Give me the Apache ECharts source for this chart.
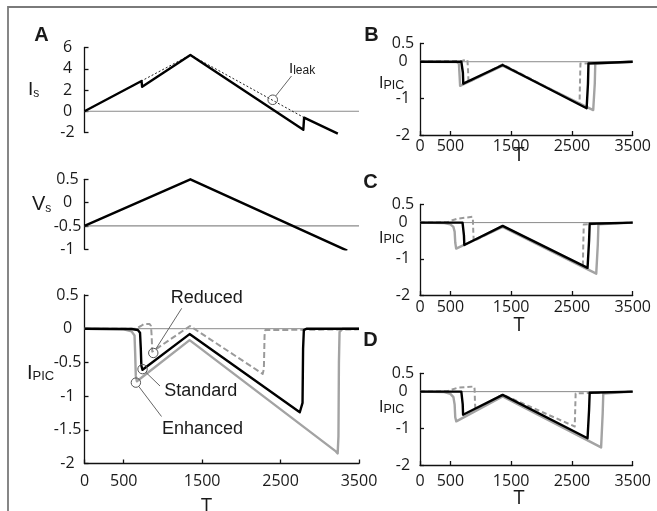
<!DOCTYPE html>
<html><head><meta charset="utf-8">
<script src="https://cdn.jsdelivr.net/npm/echarts@6/dist/echarts.min.js"></script>
<style>html,body{margin:0;padding:0;background:#fff}#c{width:657px;height:511px}</style>
</head><body><div id="c"></div>
<script>
// ---------- tick values ----------
const xTicks = [0, 500, 1500, 2500, 3500];
const yTicksBCD = [-2, -1, 0, 0.5];

// ---------- reference lines ----------
const refZero = [[0, 0], [3500, 0]];
const refVs = [[0, -0.5], [3500, -0.5]];

// ---------- Panel A: Is ----------
const isTotal = [[0,0],[727,2.85],[735,2.3],[1350,5.3],[2790,-1.75],[2800,-0.6],[3230,-2.1]];
const isLeak = [[0,0],[1350,5.3],[2800,-0.6]];
// ---------- Panel A: Vs ----------
const vsRamp = [[0,-0.5],[1350,0.5],[3350,-1.03]];
// ---------- Panel A: IPIC ----------
const aStandard = [[0,0],[600,-0.005],[680,-0.02],[708,-0.06],[718,-0.3],[725,-0.55],[740,-0.61],[1340,-0.08],[2745,-1.24],[2768,-1.26],[2780,-1.1],[2787,-0.3],[2797,-0.02],[2830,0],[3500,0]];
const aEnhanced = [[0,0],[500,-0.01],[600,-0.04],[638,-0.1],[647,-0.4],[654,-0.7],[668,-0.78],[1340,-0.17],[3205,-1.82],[3228,-1.85],[3238,-1.6],[3244,-0.5],[3252,-0.05],[3290,0],[3500,0]];
const aReduced = [[0,0],[650,0],[720,0.04],[760,0.07],[830,0.07],[848,0.04],[856,-0.1],[864,-0.34],[1345,0.04],[2272,-0.67],[2287,-0.6],[2296,-0.1],[2306,-0.02],[3500,-0.01]];
// ---------- Panel B ----------
const bStandard = [[0,0],[680,0],[698,-0.03],[706,-0.3],[712,-0.6],[724,-0.62],[1360,-0.09],[2742,-1.27],[2757,-1.25],[2764,-0.6],[2772,-0.05],[2800,0],[3500,0]];
const bEnhanced = [[0,0],[600,-0.01],[640,-0.05],[652,-0.4],[660,-0.66],[675,-0.68],[1360,-0.11],[2850,-1.32],[2868,-1.3],[2876,-0.6],[2884,-0.05],[2910,0],[3500,0]];
const bReduced = [[0,0],[690,0.02],[740,0.05],[780,0.05],[790,-0.2],[798,-0.56],[1360,-0.07],[2625,-1.16],[2632,-0.6],[2640,-0.05],[2660,0],[3500,0]];
// ---------- Panel C ----------
const cStandard = [[0,0],[700,0],[716,-0.05],[723,-0.35],[729,-0.62],[742,-0.63],[1360,-0.09],[2757,-1.25],[2772,-1.22],[2782,-0.5],[2792,-0.03],[2820,0],[3500,0]];
const cEnhanced = [[0,0],[400,-0.01],[500,-0.05],[550,-0.12],[570,-0.25],[580,-0.55],[595,-0.72],[615,-0.73],[1360,-0.12],[2900,-1.41],[2916,-1.38],[2926,-0.6],[2936,-0.05],[2960,0],[3500,0]];
const cReduced = [[0,0],[450,0.01],[520,0.06],[620,0.11],[860,0.16],[870,0.1],[878,-0.3],[885,-0.51],[1360,-0.1],[2680,-1.2],[2688,-0.5],[2695,-0.05],[2720,0],[3500,0]];
// ---------- Panel D ----------
const dStandard = [[0,0],[680,0],[696,-0.03],[703,-0.35],[709,-0.63],[722,-0.64],[1360,-0.09],[2757,-1.27],[2772,-1.25],[2782,-0.5],[2792,-0.03],[2820,0],[3500,0]];
const dEnhanced = [[0,0],[400,-0.01],[500,-0.06],[550,-0.15],[570,-0.35],[580,-0.7],[597,-0.81],[612,-0.82],[1360,-0.13],[2980,-1.52],[2996,-1.5],[3006,-0.6],[3016,-0.05],[3040,0],[3500,0]];
const dReduced = [[0,0],[450,0.01],[530,0.06],[630,0.11],[890,0.14],[898,0.08],[905,-0.3],[912,-0.49],[1360,-0.08],[2546,-0.95],[2554,-0.5],[2561,-0.05],[2585,0],[3500,0]];

// ---------- annotation anchors (data coords) ----------
const circleReduced = [877, -0.36];
const circleStandard = [740, -0.6];
const circleEnhanced = [655, -0.8];
const circleLeak = [2400, 1.08];

const NUMFONT = "'Open Sans', sans-serif";
const TXTFONT = "'Liberation Sans', Arial, sans-serif";
const BLACK = '#000';
const GRAY = '#a3a3a3';
const DGRAY = '#9a9a9a';

const chart = echarts.init(document.getElementById('c'), null, {renderer: 'canvas'});

const grids = [
  {left: 84.5, top: 47.5, width: 274.5, height: 85},
  {left: 84.5, top: 179.3, width: 274.5, height: 70},
  {left: 84.5, top: 295, width: 274.5, height: 168.5},
  {left: 420, top: 43.4, width: 212.7, height: 91.6},
  {left: 420, top: 204.5, width: 212.7, height: 90.5},
  {left: 420, top: 373.3, width: 212.7, height: 91.7}
];
const xMargins = [0, 0, 10, 3, 4, 8];
const plainNum = v => String(v);

const axisLineStyle = {color: '#111', width: 1.3};
const xAxes = grids.map((g, i) => ({
  type: 'value', gridIndex: i, min: 0, max: 3500, interval: 500,
  show: i >= 2,
  axisLine: {show: true, onZero: false, lineStyle: axisLineStyle},
  axisTick: {show: true, inside: true, length: 4, customValues: xTicks, lineStyle: axisLineStyle},
  axisLabel: {show: false},
  splitLine: {show: false}
}));
const yRanges = [
  {min: -2, max: 6, interval: 2},
  {min: -1, max: 0.5, interval: 0.5},
  {min: -2, max: 0.5, interval: 0.5},
  {min: -2, max: 0.5, custom: yTicksBCD},
  {min: -2, max: 0.5, custom: yTicksBCD},
  {min: -2, max: 0.5, custom: yTicksBCD}
];
const yAxes = yRanges.map((r, i) => {
  const ax = {
    type: 'value', gridIndex: i, min: r.min, max: r.max,
    axisLine: {show: true, onZero: false, lineStyle: axisLineStyle},
    axisTick: {show: true, inside: true, length: 4, lineStyle: axisLineStyle},
    axisLabel: {formatter: plainNum, hideOverlap: false, fontSize: 16, color: '#1a1a1a', fontFamily: NUMFONT, align: 'center', margin: 17},
    splitLine: {show: false}
  };
  if (r.interval) ax.interval = r.interval;
  if (r.custom) { ax.axisTick.customValues = r.custom; ax.axisLabel.customValues = r.custom; }
  return ax;
});

function ln(i, data, color, width, type, z, extra) {
  return Object.assign({
    type: 'line', xAxisIndex: i, yAxisIndex: i, data: data,
    showSymbol: false, symbol: 'none', animation: false, silent: true, z: z,
    lineStyle: {color: color, width: width, type: type || 'solid', cap: 'butt', join: 'round'}
  }, extra || {});
}

const series = [
  ln(0, refZero, '#8a8a8a', 1.2, 'solid', 1),
  ln(0, isLeak, '#222', 1, [2, 2], 2),
  ln(0, isTotal, BLACK, 2.4, 'solid', 3, {clip: false}),
  ln(1, refVs, '#8a8a8a', 1.2, 'solid', 1),
  ln(1, vsRamp, BLACK, 2.4, 'solid', 3),
  ln(2, refZero, '#8a8a8a', 1, 'solid', 1),
  ln(2, aEnhanced, GRAY, 2.4, 'solid', 2),
  ln(2, aReduced, DGRAY, 2, [6, 3], 3),
  ln(2, aStandard, BLACK, 2.4, 'solid', 4),
  ln(3, refZero, '#8a8a8a', 1, 'solid', 1),
  ln(3, bEnhanced, GRAY, 2.4, 'solid', 2),
  ln(3, bReduced, DGRAY, 2, [5, 3], 3),
  ln(3, bStandard, BLACK, 2.4, 'solid', 4),
  ln(4, refZero, '#8a8a8a', 1, 'solid', 1),
  ln(4, cEnhanced, GRAY, 2.4, 'solid', 2),
  ln(4, cReduced, DGRAY, 2, [5, 3], 3),
  ln(4, cStandard, BLACK, 2.4, 'solid', 4),
  ln(5, refZero, '#8a8a8a', 1, 'solid', 1),
  ln(5, dEnhanced, GRAY, 2.4, 'solid', 2),
  ln(5, dReduced, DGRAY, 2, [5, 3], 3),
  ln(5, dStandard, BLACK, 2.4, 'solid', 4)
];

chart.setOption({
  backgroundColor: '#fff',
  animation: false,
  grid: grids,
  xAxis: xAxes,
  yAxis: yAxes,
  series: series
});

// ---------- graphic annotations ----------
function subLabel(x, y, main, sub, mainSize, subSize) {
  return {
    type: 'text', x: x, y: y, z: 100,
    style: {
      text: '{a|' + main + '}{b|' + sub + '}',
      align: 'left', verticalAlign: 'middle',
      rich: {
        a: {fontSize: mainSize, fontFamily: TXTFONT, fill: '#1a1a1a', verticalAlign: 'bottom', lineHeight: mainSize},
        b: {fontSize: subSize, fontFamily: TXTFONT, fill: '#1a1a1a', verticalAlign: 'bottom', lineHeight: subSize}
      }
    }
  };
}
function plain(x, y, txt, size, font, weight) {
  return {type: 'text', x: x, y: y, z: 100,
    style: {text: txt, fontSize: size, fontFamily: font, fontWeight: weight || 'normal', fill: '#1a1a1a', align: 'center', verticalAlign: 'middle'}};
}
function marker(gi, at, r, endX, endY) {
  const p = chart.convertToPixel({gridIndex: gi}, at);
  const dx = endX - p[0], dy = endY - p[1];
  const d = Math.sqrt(dx * dx + dy * dy);
  return [
    {type: 'circle', z: 100, shape: {cx: p[0], cy: p[1], r: r}, style: {fill: 'none', stroke: '#555', lineWidth: 1}},
    {type: 'line', z: 100, shape: {x1: p[0] + dx / d * r, y1: p[1] + dy / d * r, x2: endX, y2: endY}, style: {stroke: '#666', lineWidth: 1}}
  ];
}
// x tick labels placed at the axis's own tick positions
function xTickLabels(gi) {
  const yMin = yRanges[gi].min;
  return xTicks.map(v => {
    const p = chart.convertToPixel({gridIndex: gi}, [v, yMin]);
    return {type: 'text', x: p[0], y: p[1] + xMargins[gi], z: 100,
      style: {text: String(v), fontSize: 16, fontFamily: NUMFONT, fill: '#1a1a1a', align: 'center', verticalAlign: 'top'}};
  });
}

const g = [
  {type: 'rect', z: 0, shape: {x: 8, y: 7, width: 700, height: 600}, style: {fill: 'none', stroke: '#7a7a7a', lineWidth: 1.8}},
  plain(41.5, 35.5, 'A', 20, TXTFONT, 'bold'),
  plain(371.5, 35, 'B', 20, TXTFONT, 'bold'),
  plain(370.5, 182.5, 'C', 20, TXTFONT, 'bold'),
  plain(370.5, 340, 'D', 20, TXTFONT, 'bold'),
  subLabel(28, 90, 'I', 's', 19, 12),
  subLabel(32, 204.5, 'V', 's', 20, 12),
  subLabel(27, 373, 'I', 'PIC', 20, 13),
  subLabel(379, 84, 'I', 'PIC', 16, 12.5),
  subLabel(379, 238.5, 'I', 'PIC', 16, 12.5),
  subLabel(379, 408, 'I', 'PIC', 16, 12.5),
  subLabel(289, 69, 'I', 'leak', 15, 12),
  plain(206.5, 506, 'T', 20, NUMFONT),
  plain(519, 155, 'T', 20, NUMFONT),
  plain(519, 325, 'T', 20, NUMFONT),
  plain(519, 498, 'T', 20, NUMFONT),
  plain(206.7, 298.5, 'Reduced', 18, TXTFONT),
  plain(200.8, 391, 'Standard', 18, TXTFONT),
  plain(202.5, 429, 'Enhanced', 18, TXTFONT)
].concat(
  xTickLabels(2), xTickLabels(3), xTickLabels(4), xTickLabels(5),
  marker(2, circleReduced, 4.7, 181.7, 308.3),
  marker(2, circleStandard, 4.7, 160, 386),
  marker(2, circleEnhanced, 4.7, 161.5, 416.5),
  marker(0, circleLeak, 4.8, 291.5, 76)
);

chart.setOption({graphic: {elements: g}});
</script>
</body></html>
